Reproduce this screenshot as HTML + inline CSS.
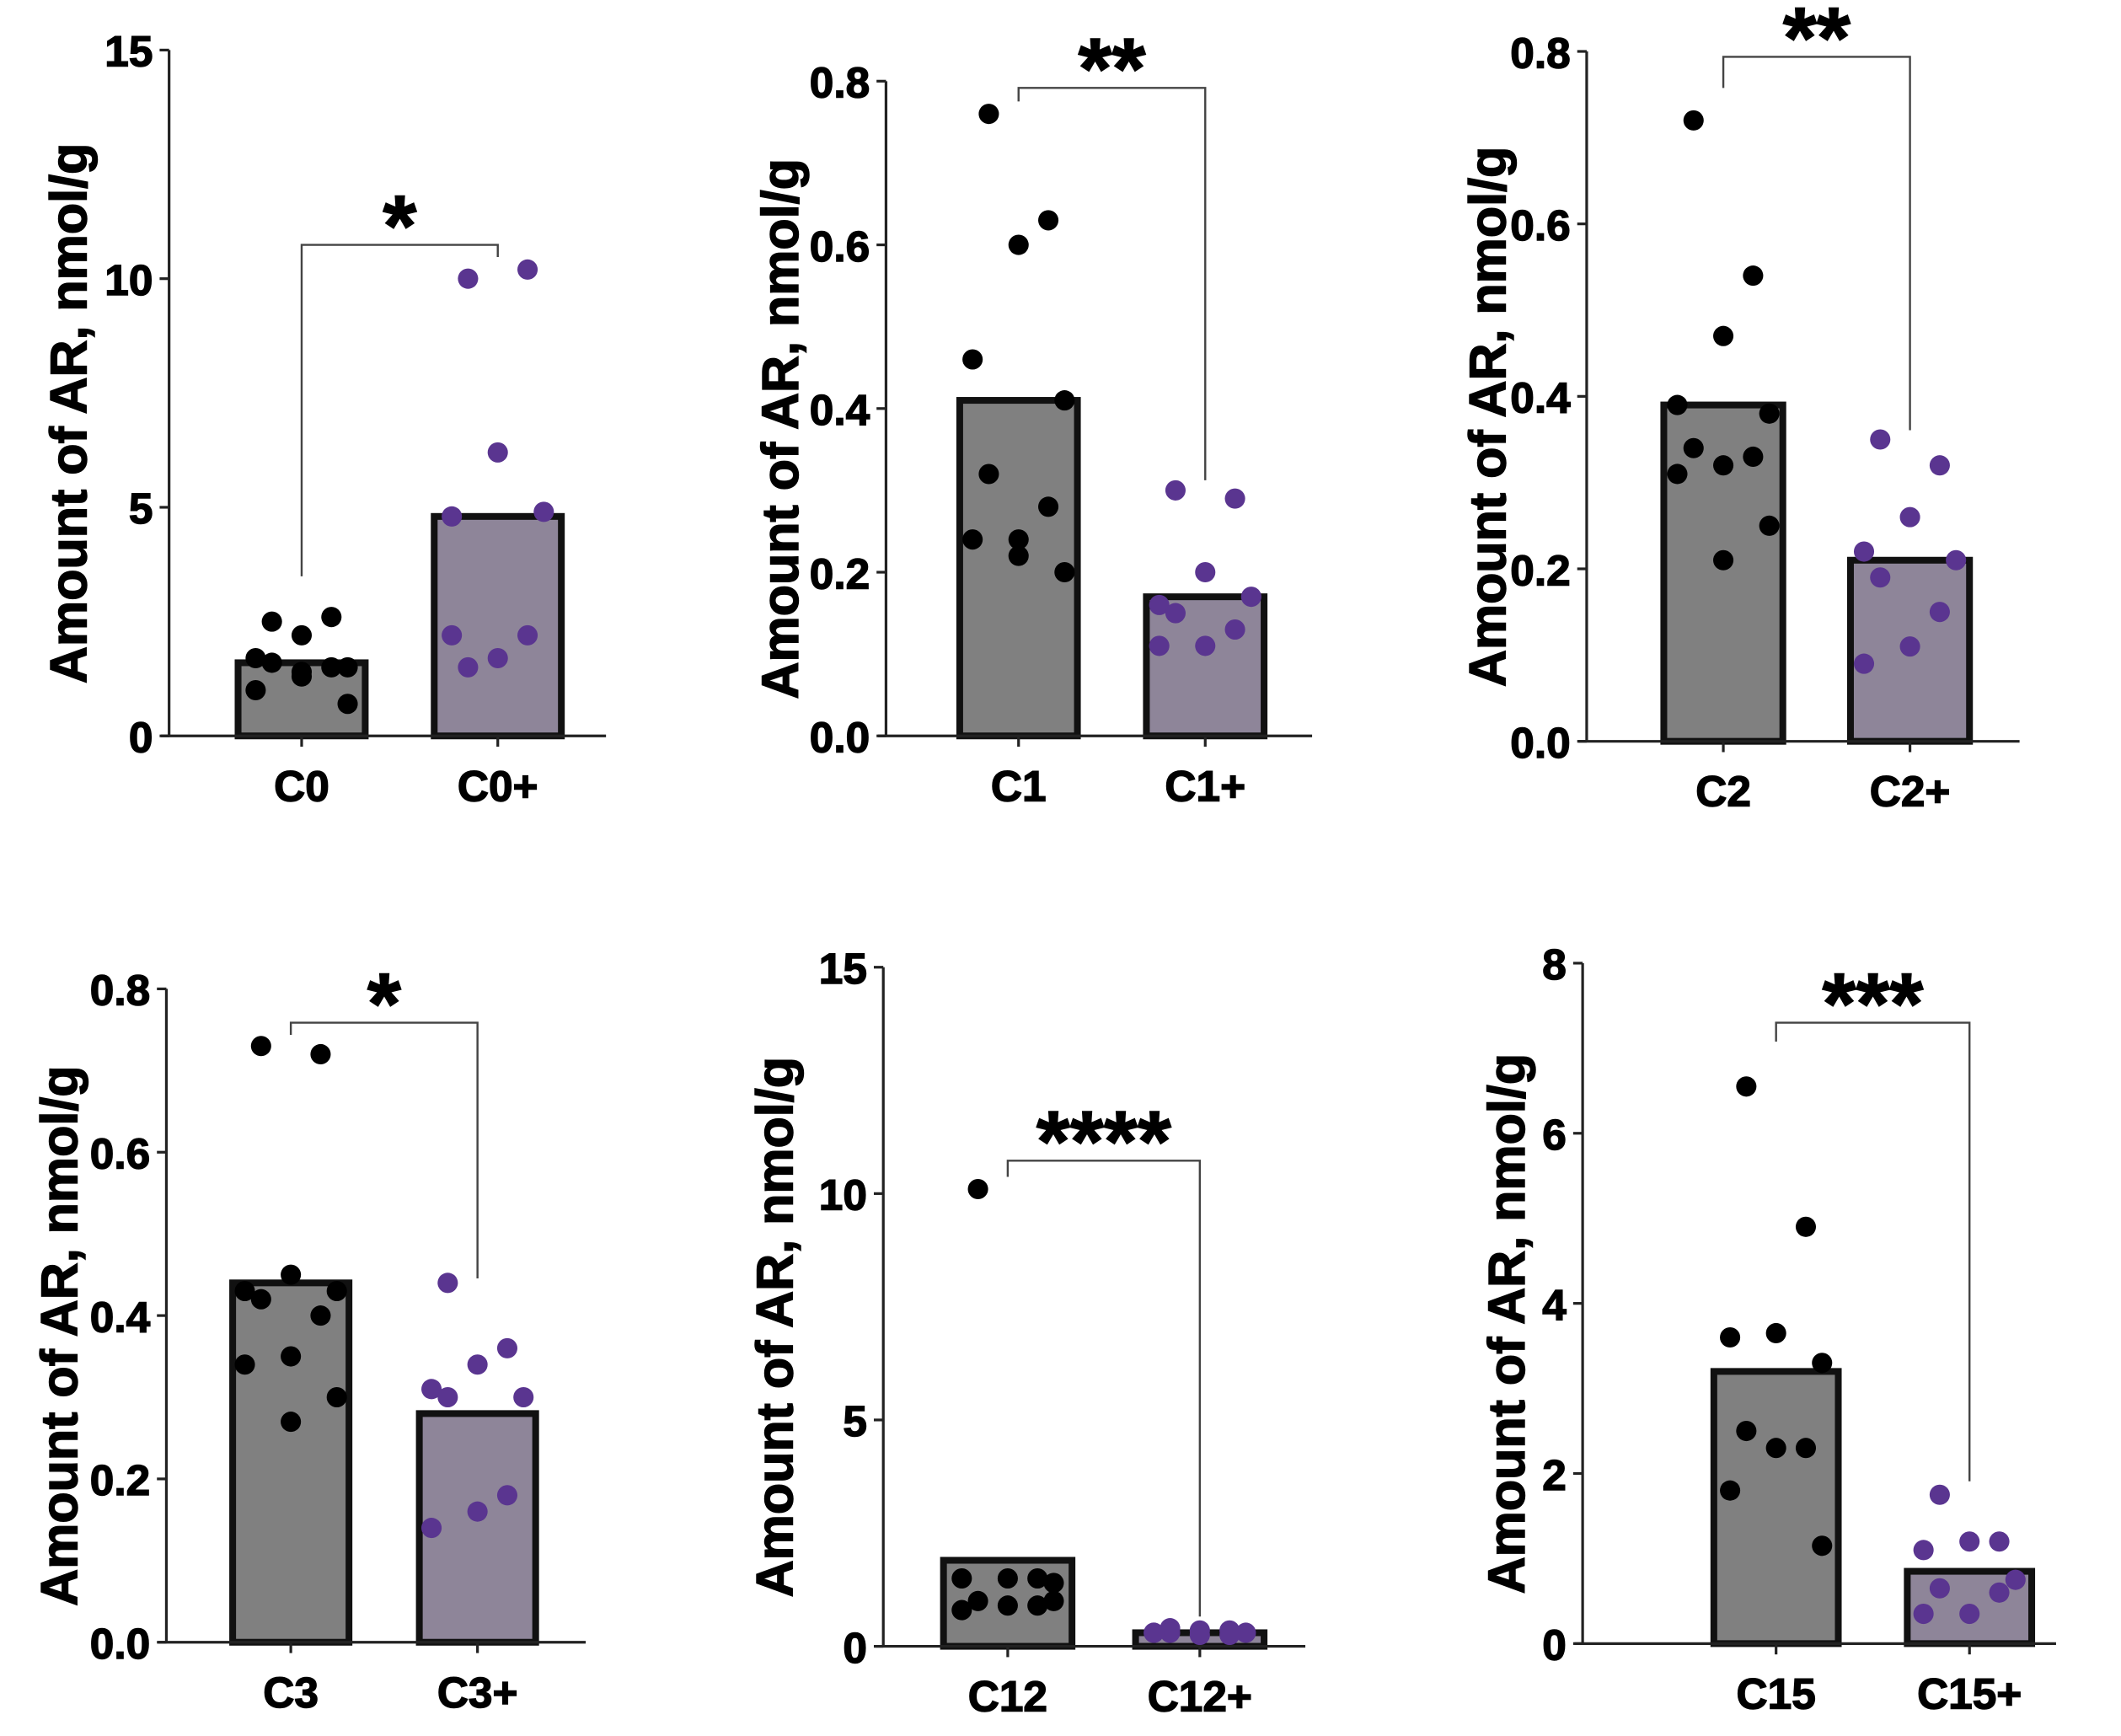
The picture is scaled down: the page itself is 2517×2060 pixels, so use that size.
<!DOCTYPE html>
<html><head><meta charset="utf-8"><style>
body{margin:0;background:#fff}
svg{display:block}
text{font-family:"Liberation Sans",Arial,sans-serif;font-weight:bold;fill:#000;stroke:#000;stroke-width:0.9px}
</style></head><body>
<svg id="fig" width="2517" height="2060" viewBox="0 0 1568 1283.3" xmlns="http://www.w3.org/2000/svg"></svg>
<script>
// ---- data ----
const p1Cats = ["C0","C0+"];
const p1Ctrl = [2.5,2.6,2.2,1.7,1.5,1.6,1.5,1.4,1.0,0.7,1.3];
const p1Trt = [10.0,10.2,6.2,4.8,4.9,1.5,2.2,1.7,2.2];
const p1Means = [1.6,4.8];
const p1Ticks = [0,5,10,15];
const p1Star = "*";

const p2Cats = ["C1","C1+"];
const p2Ctrl = [0.76,0.63,0.60,0.46,0.41,0.32,0.28,0.24,0.24,0.20,0.22];
const p2Trt = [0.30,0.29,0.20,0.16,0.17,0.15,0.13,0.11,0.11];
const p2Means = [0.41,0.17];
const p2Ticks = [0.0,0.2,0.4,0.6,0.8];
const p2Star = "**";

const p3Cats = ["C2","C2+"];
const p3Ctrl = [0.72,0.54,0.47,0.39,0.38,0.34,0.33,0.32,0.31,0.25,0.21];
const p3Trt = [0.35,0.32,0.26,0.22,0.21,0.19,0.15,0.11,0.09];
const p3Means = [0.39,0.21];
const p3Ticks = [0.0,0.2,0.4,0.6,0.8];
const p3Star = "**";

const p4Cats = ["C3","C3+"];
const p4Ctrl = [0.73,0.72,0.45,0.43,0.43,0.42,0.40,0.35,0.34,0.30,0.27];
const p4Trt = [0.44,0.36,0.34,0.31,0.30,0.30,0.18,0.16,0.14];
const p4Means = [0.44,0.28];
const p4Ticks = [0.0,0.2,0.4,0.6,0.8];
const p4Star = "*";

const p5Cats = ["C12","C12+"];
const p5Ctrl = [10.1,1.5,1.5,1.5,1.4,1.0,0.9,0.9,0.8,1.0];
const p5Trt = [0.4,0.35,0.35,0.3,0.3,0.3,0.25,0.25,0.3];
const p5Means = [1.9,0.3];
const p5Ticks = [0,5,10,15];
const p5Star = "****";

const p6Cats = ["C15","C15+"];
const p6Ctrl = [6.55,4.9,3.65,3.6,3.3,2.5,2.3,2.3,1.8,1.15];
const p6Trt = [1.75,1.2,1.2,1.1,0.75,0.65,0.6,0.35,0.35];
const p6Means = [3.2,0.85];
const p6Ticks = [0,2,4,6,8];
const p6Star = "***";

// ---- layout ----
const panels = [
 {id:"c0",cats:p1Cats,ctrl:p1Ctrl,trt:p1Trt,means:p1Means,ticks:p1Ticks,star:p1Star,dec:0,ax:125,xEnd:448,yTop:37,yBot:544,c:[223,368],bw:94,brY:181,lLeg:426,rLeg:190,labX:50},
 {id:"c1",cats:p2Cats,ctrl:p2Ctrl,trt:p2Trt,means:p2Means,ticks:p2Ticks,star:p2Star,dec:1,ax:655,xEnd:970,yTop:60,yBot:544,c:[753,891],bw:87,brY:65,lLeg:75,rLeg:355,labX:576},
 {id:"c2",cats:p3Cats,ctrl:p3Ctrl,trt:p3Trt,means:p3Means,ticks:p3Ticks,star:p3Star,dec:1,ax:1173,xEnd:1493,yTop:38,yBot:548,c:[1274,1412],bw:88,brY:42,lLeg:65,rLeg:318,labX:1099},
 {id:"c3",cats:p4Cats,ctrl:p4Ctrl,trt:p4Trt,means:p4Means,ticks:p4Ticks,star:p4Star,dec:1,ax:123,xEnd:433,yTop:731,yBot:1214,c:[215,353],bw:86,brY:756,lLeg:765,rLeg:945,labX:43},
 {id:"c12",cats:p5Cats,ctrl:p5Ctrl,trt:p5Trt,means:p5Means,ticks:p5Ticks,star:p5Star,dec:0,ax:653,xEnd:965,yTop:715,yBot:1217,c:[745,887],bw:95,brY:858,lLeg:870,rLeg:1195,labX:572},
 {id:"c15",cats:p6Cats,ctrl:p6Ctrl,trt:p6Trt,means:p6Means,ticks:p6Ticks,star:p6Star,dec:0,ax:1170,xEnd:1520,yTop:712,yBot:1215,c:[1313,1456],bw:92,brY:756,lLeg:770,rLeg:1095,labX:1113}
];
const jitC = [-22,22,0,-34,34,-22,22,0,-34,34,0];
const jitT = [-22,22,0,-34,34,-22,22,0,-34,34];
const NS="http://www.w3.org/2000/svg";
const svg=document.getElementById('fig');
function mk(tag,attrs,parent){const e=document.createElementNS(NS,tag);for(const k in attrs)e.setAttribute(k,attrs[k]);(parent||svg).appendChild(e);return e;}

panels.forEach(p=>{
  const g=mk('g',{});
  
  
  const vmax=p.ticks[p.ticks.length-1];
  const y=v=>p.yBot-(v/vmax)*(p.yBot-p.yTop);
  const fills=["#808080","#8e8599"];
  p.means.forEach((m,i)=>{
    const r=mk('rect',{x:p.c[i]-p.bw/2,y:y(m),width:p.bw,height:p.yBot-y(m),fill:fills[i],stroke:"#111",'stroke-width':5},g);
    
    
  });
  p.ctrl.forEach((v,j)=>{
    const c=mk('circle',{cx:p.c[0]+jitC[j%jitC.length],cy:y(v),r:7.5,fill:"#000"},g);
    
    
  });
  p.trt.forEach((v,j)=>{
    const c=mk('circle',{cx:p.c[1]+jitT[j%jitT.length],cy:y(v),r:7.5,fill:"#5a3590"},g);
    
    
  });
  const ya=mk('line',{x1:p.ax,y1:p.yTop,x2:p.ax,y2:p.yBot,stroke:"#222",'stroke-width':2},g);
  
  
  const xa=mk('line',{x1:p.ax-6,y1:p.yBot,x2:p.xEnd,y2:p.yBot,stroke:"#222",'stroke-width':2},g);
  
  
  p.ticks.forEach(t=>{
    mk('line',{x1:p.ax-7,y1:y(t),x2:p.ax,y2:y(t),stroke:"#222",'stroke-width':2},g);
    const tx=mk('text',{x:p.ax-12,y:y(t)+12,'text-anchor':'end','font-size':32},g);
    tx.textContent=t.toFixed(p.dec);
    
    
  });
  p.cats.forEach((c,i)=>{
    mk('line',{x1:p.c[i],y1:p.yBot,x2:p.c[i],y2:p.yBot+8,stroke:"#222",'stroke-width':2},g);
    const tx=mk('text',{x:p.c[i],y:p.yBot+48,'text-anchor':'middle','font-size':32},g);
    tx.textContent=c;
    
    
  });
  const yc=(p.yTop+p.yBot)/2+15;
  const yl=mk('text',{x:0,y:0,transform:`translate(${p.labX+14},${yc}) rotate(-90)`,'text-anchor':'middle','font-size':38},g);
  yl.textContent="Amount of AR, nmol/g";
  
  
  const br=mk('path',{d:`M${p.c[0]},${p.lLeg} V${p.brY} H${p.c[1]} V${p.rLeg}`,fill:"none",stroke:"#444",'stroke-width':1.5},g);
  
  
  const st=mk('text',{x:(p.c[0]+p.c[1])/2,y:p.brY+8,'text-anchor':'middle','font-size':64,'stroke-width':2},g);
  st.textContent=p.star;
  
  
});
</script>
</body></html>
